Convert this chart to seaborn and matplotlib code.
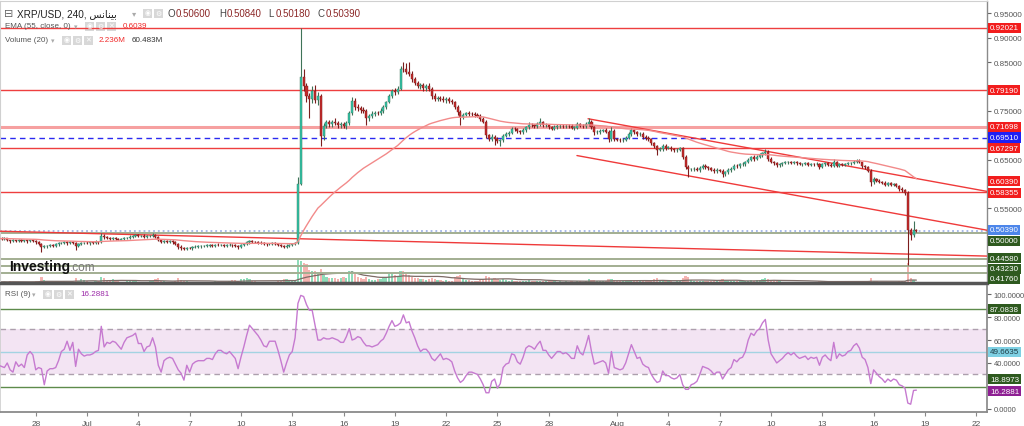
import numpy as np
import pandas as pd
import matplotlib
matplotlib.use("Agg")
import matplotlib.pyplot as plt
import seaborn as sns
from matplotlib.transforms import blended_transform_factory, offset_copy
from matplotlib.patches import Rectangle

sns.set_theme(style="white")
plt.rcParams["font.family"] = ["Liberation Sans", "DejaVu Sans"]

# ------------------------------------------------------------------ data
start_time = "2023-06-25 20:00"      # first 4h candle
first_open = 0.489

# closes in thousandths of a dollar (4h candles)
close_k = [
    488, 487, 489, 484, 482, 484, 483, 485, 483, 484,   # 0
    482, 484, 483, 480, 477, 470, 472, 473, 474, 472,   # 10
    476, 478, 479, 480, 478, 480, 479, 472, 477, 478,   # 20
    479, 478, 480, 479, 481, 480, 494, 491, 490, 488,   # 30
    489, 487, 486, 487, 489, 490, 492, 494, 495, 493,   # 40
    494, 492, 493, 494, 496, 492, 484, 481, 482, 481,   # 50
    482, 480, 476, 471, 468, 466, 469, 468, 470, 471,   # 60
    472, 472, 473, 473, 474, 473, 475, 474, 474, 473,   # 70
    474, 475, 474, 473, 470, 474, 477, 480, 482, 481,   # 80
    480, 479, 478, 477, 476, 477, 478, 477, 475, 473,   # 90
    471, 473, 475, 476, 478, 600, 819, 800, 781, 775,   # 100
    791, 772, 780, 699, 719, 726, 722, 728, 724, 720,   # 110
    722, 718, 725, 745, 770, 758, 755, 752, 750, 735,   # 120
    740, 744, 746, 745, 750, 758, 768, 780, 790, 788,   # 130
    795, 836, 835, 830, 826, 815, 808, 800, 802, 796,   # 140
    800, 795, 781, 775, 777, 775, 772, 775, 770, 768,   # 150
    758, 748, 738, 742, 745, 744, 743, 742, 740, 734,   # 160
    728, 700, 693, 697, 692, 688, 690, 699, 703, 705,   # 170
    713, 712, 708, 706, 710, 716, 721, 720, 718, 722,   # 180
    727, 720, 720, 716, 713, 716, 719, 719, 718, 719,   # 190
    718, 715, 715, 722, 719, 718, 722, 728, 716, 706,   # 200
    707, 709, 710, 707, 692, 708, 692, 691, 690, 691,   # 210
    695, 702, 710, 706, 702, 703, 697, 694, 692, 684,   # 220
    677, 670, 671, 678, 674, 674, 671, 669, 670, 673,   # 230
    655, 635, 630, 630, 631, 629, 633, 637, 634, 632,   # 240
    629, 626, 628, 627, 620, 624, 628, 631, 637, 636,   # 250
    640, 641, 645, 650, 655, 652, 656, 659, 663, 666,   # 260
    652, 645, 642, 638, 640, 642, 644, 645, 643, 645,   # 270
    642, 640, 641, 642, 639, 641, 640, 641, 634, 640,   # 280
    642, 639, 637, 646, 637, 640, 639, 640, 642, 643,   # 290
    646, 648, 644, 636, 634, 627, 603, 611, 607, 604,   # 300
    602, 598, 601, 598, 599, 596, 590, 587, 582, 505,   # 310
    495, 506, 503.9,                                    # 320
]

# wick lengths beyond the body, thousandths of a dollar
upper_wick_k = [
    2, 3, 2, 1, 2, 3, 2, 2, 3, 2,
    2, 2, 3, 1, 2, 2, 3, 2, 2, 2,
    3, 2, 2, 3, 2, 2, 3, 2, 2, 2,
    2, 3, 2, 2, 3, 2, 5, 3, 2, 2,
    3, 2, 2, 3, 2, 2, 3, 2, 3, 2,
    2, 3, 2, 2, 3, 2, 2, 2, 3, 2,
    2, 2, 2, 2, 3, 2, 2, 2, 2, 3,
    2, 2, 2, 3, 2, 2, 2, 3, 2, 2,
    2, 3, 2, 2, 2, 3, 2, 2, 4, 2,
    2, 2, 3, 2, 2, 2, 3, 2, 2, 2,
    2, 3, 2, 2, 3, 15, 101, 16, 8, 6,
    10, 12, 8, 5, 6, 5, 6, 4, 7, 5,
    4, 6, 5, 4, 9, 6, 5, 4, 6, 4,
    4, 5, 3, 4, 5, 4, 3, 5, 4, 6,
    5, 6, 14, 13, 20, 6, 5, 4, 6, 5,
    5, 6, 4, 5, 3, 4, 5, 4, 3, 5,
    3, 4, 3, 4, 3, 4, 3, 4, 3, 4,
    3, 4, 3, 5, 3, 4, 3, 4, 3, 4,
    3, 4, 3, 3, 4, 3, 5, 4, 3, 4,
    8, 3, 4, 3, 3, 4, 3, 3, 4, 3,
    3, 4, 3, 5, 3, 3, 4, 7, 3, 3,
    4, 3, 3, 4, 3, 11, 4, 3, 3, 3,
    4, 5, 4, 3, 3, 4, 3, 3, 4, 3,
    3, 3, 4, 3, 3, 3, 4, 3, 3, 3,
    3, 4, 3, 3, 4, 3, 3, 4, 3, 3,
    3, 3, 4, 3, 3, 3, 4, 3, 4, 3,
    3, 4, 3, 4, 3, 4, 3, 4, 3, 6,
    4, 3, 3, 3, 3, 2, 3, 2, 3, 2,
    2, 3, 2, 2, 3, 2, 2, 3, 2, 3,
    2, 2, 3, 6, 2, 3, 2, 2, 3, 2,
    3, 3, 3, 2, 3, 2, 4, 3, 2, 3,
    2, 3, 2, 3, 2, 3, 2, 3, 3, 3,
    4, 17, 2.4,
]
lower_wick_k = [
    2, 2, 3, 2, 3, 2, 2, 3, 2, 2,
    3, 2, 2, 3, 2, 9, 2, 3, 2, 2,
    2, 3, 2, 2, 3, 2, 2, 8, 2, 3,
    2, 2, 3, 2, 2, 3, 2, 3, 2, 2,
    2, 3, 2, 2, 3, 2, 2, 2, 3, 2,
    2, 2, 3, 2, 2, 3, 2, 3, 2, 2,
    2, 3, 2, 5, 3, 2, 2, 2, 3, 2,
    2, 3, 2, 2, 2, 3, 2, 2, 2, 3,
    2, 2, 3, 2, 3, 2, 2, 2, 3, 2,
    2, 3, 2, 2, 3, 2, 2, 3, 2, 2,
    3, 2, 2, 3, 2, 2, 3, 10, 12, 40,
    8, 6, 10, 22, 8, 5, 6, 5, 4, 6,
    5, 4, 6, 5, 4, 6, 5, 6, 5, 15,
    5, 4, 5, 4, 3, 5, 4, 3, 4, 5,
    4, 3, 6, 5, 4, 6, 5, 4, 5, 6,
    5, 4, 6, 5, 4, 5, 4, 5, 4, 5,
    5, 6, 18, 4, 3, 4, 3, 4, 3, 5,
    4, 6, 5, 4, 13, 5, 10, 4, 3, 4,
    3, 4, 4, 3, 4, 3, 4, 3, 4, 3,
    3, 4, 3, 4, 3, 3, 3, 4, 3, 3,
    3, 3, 4, 3, 3, 4, 3, 4, 4, 5,
    3, 4, 3, 3, 6, 3, 4, 3, 4, 3,
    3, 3, 4, 3, 3, 3, 4, 3, 3, 4,
    3, 10, 3, 3, 4, 3, 3, 3, 4, 3,
    4, 5, 15, 3, 4, 3, 4, 3, 3, 4,
    3, 4, 3, 3, 6, 3, 3, 4, 3, 3,
    3, 3, 4, 3, 3, 4, 3, 3, 4, 3,
    4, 3, 3, 3, 3, 3, 2, 3, 2, 3,
    3, 2, 3, 2, 3, 2, 3, 2, 3, 2,
    3, 2, 3, 2, 3, 2, 3, 2, 2, 3,
    2, 3, 2, 3, 3, 3, 8, 3, 3, 2,
    3, 2, 3, 2, 3, 3, 4, 3, 4, 71,
    9, 3, 2.1,
]

# volume per candle, millions
volume_m = [
    30, 25, 35, 20, 40, 30, 25, 20, 30, 25,
    35, 20, 25, 45, 60, 140, 70, 40, 30, 25,
    30, 35, 40, 45, 30, 25, 30, 120, 60, 90,
    80, 40, 35, 30, 45, 50, 150, 110, 60, 50,
    90, 80, 40, 35, 30, 40, 45, 50, 55, 35,
    30, 35, 30, 40, 45, 100, 110, 60, 40, 35,
    30, 35, 60, 110, 80, 50, 45, 35, 30, 30,
    25, 30, 30, 35, 25, 30, 40, 35, 30, 25,
    30, 50, 80, 70, 60, 90, 100, 110, 90, 60,
    40, 35, 30, 25, 30, 35, 30, 25, 40, 60,
    90, 100, 70, 45, 40, 560, 540, 480, 450, 320,
    280, 300, 220, 330, 200, 150, 130, 120, 110, 100,
    120, 140, 110, 280, 300, 220, 140, 110, 100, 150,
    90, 80, 70, 90, 100, 120, 150, 220, 250, 200,
    180, 280, 300, 220, 200, 150, 130, 110, 100, 90,
    80, 90, 110, 100, 80, 70, 60, 70, 60, 50,
    140, 160, 200, 100, 80, 70, 60, 60, 50, 70,
    80, 180, 140, 100, 120, 90, 80, 90, 70, 60,
    70, 60, 50, 45, 50, 60, 70, 60, 50, 45,
    60, 50, 45, 40, 45, 40, 35, 40, 35, 40,
    35, 40, 35, 50, 40, 35, 45, 90, 80, 70,
    50, 45, 40, 45, 100, 90, 80, 50, 40, 45,
    50, 60, 70, 50, 45, 40, 50, 55, 50, 70,
    90, 110, 60, 50, 45, 40, 40, 35, 40, 45,
    120, 180, 150, 80, 60, 50, 45, 50, 45, 40,
    40, 45, 40, 45, 90, 60, 45, 40, 50, 45,
    45, 50, 55, 60, 70, 60, 70, 80, 90, 110,
    100, 70, 55, 45, 40, 35, 35, 30, 30, 35,
    30, 30, 35, 30, 30, 30, 25, 30, 55, 40,
    30, 30, 35, 60, 40, 30, 30, 25, 30, 30,
    40, 45, 40, 35, 30, 50, 120, 60, 40, 35,
    30, 35, 30, 30, 30, 35, 40, 45, 60, 480,
    130, 70, 2.236,
]

# RSI(9)
rsi9 = [
    38, 37, 36, 40, 34, 32, 41, 37, 39, 36,
    47, 50, 47, 34, 36, 35, 21, 33, 35, 35,
    36, 42, 50, 52, 59, 51, 58, 37, 52, 48,
    46, 47, 47, 48, 50, 51, 72, 54, 58, 57,
    59, 58, 55, 52, 58, 62, 63, 64, 66, 57,
    57, 50, 54, 55, 62, 54, 38, 32, 42, 44,
    45, 44, 39, 34, 31, 25, 38, 32, 39, 41,
    42, 42, 42, 44, 44, 43, 48, 51, 51, 49,
    48, 50, 47, 44, 35, 45, 54, 64, 73, 70,
    67, 64, 60, 55, 54, 59, 59, 59, 51, 42,
    32, 40, 47, 50, 62, 92, 99, 98, 91, 86,
    86, 73, 60, 60, 62, 61, 61, 62, 61, 60,
    58, 58, 63, 70, 60, 61, 63, 62, 58, 55,
    55, 54, 55, 56, 59, 61, 66, 72, 77, 72,
    73, 75, 82, 75, 76, 68, 62, 55, 50, 52,
    52, 49, 44, 42, 45, 48, 43, 44, 43, 41,
    33, 27, 23, 25, 29, 32, 32, 31, 30, 26,
    21, 14, 14, 24, 26, 18, 22, 36, 39, 40,
    48, 47, 41, 39, 45, 53, 55, 54, 52, 56,
    59, 51, 51, 47, 44, 47, 50, 50, 48, 49,
    47, 44, 44, 55, 49, 47, 55, 64, 50, 39,
    40, 41, 42, 40, 31, 50, 36, 35, 34, 35,
    40, 48, 56, 50, 44, 45, 39, 37, 36, 30,
    26, 23, 24, 33, 29, 29, 27, 26, 27, 30,
    21, 17, 17, 21, 22, 24, 30, 37, 36, 35,
    33, 30, 32, 32, 26, 30, 34, 36, 43, 41,
    44, 45, 50, 60, 66, 64, 68, 70, 75, 78,
    60, 48, 44, 40, 42, 44, 47, 49, 47, 49,
    46, 44, 45, 46, 43, 45, 44, 45, 38, 45,
    47, 44, 42, 58, 44, 48, 46, 47, 50, 51,
    55, 57, 53, 45, 43, 36, 22, 34, 31, 28,
    26, 23, 26, 24, 26, 25, 21, 20, 18, 5,
    4, 16, 16.2881,
]

# horizontal levels and labels
red_levels = [0.92021, 0.79190, 0.67297, 0.58355]
zone_level = 0.71698
blue_level = 0.69510
last_price = 0.50390
support_levels = [0.50000, 0.44580, 0.43230, 0.41760]
ema_last_label = 0.60390
# drawn trend lines: ((day, price), (day, price)), day = days since 1 Jul 2023
trendlines = [((29.30, 0.7337), (52.63, 0.5847)),
              ((28.65, 0.6582), (52.63, 0.5051)),
              ((-5.09, 0.5030), (52.63, 0.4520))]
rsi_upper_line, rsi_mid_line, rsi_lower_line = 87.0838, 49.6635, 18.8973
rsi_band = (30, 70)
rsi_last = 16.2881
price_ticks = [0.40, 0.45, 0.50, 0.55, 0.60, 0.65, 0.70, 0.75, 0.80, 0.85, 0.90, 0.95]
price_tick_labels = ["", "", "", "0.55000", "", "0.65000", "", "0.75000", "",
                     "0.85000", "0.90000", "0.95000"]
rsi_ticks = [0, 20, 40, 60, 80, 100]
rsi_tick_labels = ["0.0000", "", "40.0000", "60.0000", "80.0000", "100.0000"]
x_tick_days = [-3, 0, 3, 6, 9, 12, 15, 18, 21, 24, 27, 31, 34, 37, 40, 43, 46, 49, 52]
x_tick_labels = ["28", "Jul", "4", "7", "10", "13", "16", "19", "22", "25", "28",
                 "Aug", "4", "7", "10", "13", "16", "19", "22"]
ohlc_letters = ["O", "H", "L", "C"]
ohlc_values = ["0.50600", "0.50840", "0.50180", "0.50390"]
# "بينانس" written in joined (presentation) forms, visual order
exchange_name = "\uFEB2\uFEE7\uFE8E\uFEE8\uFEF4\uFE91"

# ------------------------------------------------------------------ derived
n = len(close_k)
c = np.array(close_k, float) / 1000
o = np.r_[first_open, c[:-1]]
hi = np.maximum(o, c) + np.array(upper_wick_k, float) / 1000
lo = np.minimum(o, c) - np.array(lower_wick_k, float) / 1000
times = pd.date_range(start_time, periods=n, freq="4h")
day = np.asarray((times - pd.Timestamp("2023-07-01")) / pd.Timedelta(days=1))
up = c >= o
vol = np.array(volume_m, float)
vol_ma = pd.Series(vol).rolling(20, min_periods=1).mean().values
ema55 = pd.Series(c).ewm(span=55, adjust=False).mean().values
rsi = np.array(rsi9, float)

# ------------------------------------------------------------------ figure
W, H = 1024, 427
fig = plt.figure(figsize=(W / 100, H / 100), dpi=100)
fig.patch.set_facecolor("white")
fx = lambda p: p / W
fy = lambda p: 1 - p / H
RIGHT = 987
price_rect = [0, fy(284), fx(RIGHT), (284 - 2) / H]
ax_vol = fig.add_axes(price_rect)
ax = fig.add_axes(price_rect, sharex=ax_vol)
ax_rsi = fig.add_axes([0, fy(413), fx(RIGHT), (413 - 287) / H], sharex=ax_vol)
ax_vol.set_zorder(1)
ax.set_zorder(2)
ax.patch.set_alpha(0)
ax_vol.axis("off")

XMIN, XMAX = -5.09, 52.63

# volume
vcol = np.where(up, "#8edcb9", "#f5b4b1")
ax_vol.bar(day, vol, width=0.13, color=vcol, linewidth=0)
sns.lineplot(x=day, y=vol_ma, ax=ax_vol, color="#7d6b66", linewidth=0.9)
ax_vol.set_ylim(0, 6770)

# levels
for lv in red_levels:
    ax.axhline(lv, color="#ee3f3f", lw=1, zorder=2)
ax.axhline(zone_level, color="#f6a0a0", lw=2.2, zorder=2)
ax.axhline(blue_level, color="#2a2af0", lw=1, ls=(0, (4, 3)), zorder=2)
for lv in support_levels:
    ax.axhline(lv, color="#a2ae92", lw=1.4, zorder=2)
ax.axhline(last_price, color="#9fb3e6", lw=1.3, ls=":", zorder=2)
for (x1, y1), (x2, y2) in trendlines:
    ax.plot([x1, x2], [y1, y2], color="#ef3a3a", lw=1, zorder=3)

# candles
wick_col = np.where(up, "#3f7358", "#7c1d1d")
body_col = np.where(up, "#2fc6aa", "#c42a2a")
ax.vlines(day, lo, hi, colors=wick_col, lw=0.8, zorder=4)
body_lo = np.minimum(o, c)
body_h = np.maximum(np.abs(c - o), 0.0008)
ax.bar(day, body_h, bottom=body_lo, width=0.12, color=body_col,
       edgecolor=wick_col, linewidth=0.3, zorder=5)

# EMA 55
sns.lineplot(x=day, y=ema55, ax=ax, color="#f28a8a", linewidth=1, zorder=6)

ax.set_xlim(XMIN, XMAX)
ax.set_ylim(0.3968, 0.9752)
ax.set_xlabel("")
ax.set_ylabel("")
ax.yaxis.tick_right()
ax.set_yticks(price_ticks)
ax.set_yticklabels(price_tick_labels)
ax.tick_params(axis="y", labelsize=5.8, colors="#666", labelcolor="#555",
               length=3, width=0.8, pad=2, right=True, left=False)
ax.tick_params(axis="x", bottom=False, labelbottom=False)
for s in ["left", "top"]:
    ax.spines[s].set_color("#d0d0d0")
    ax.spines[s].set_linewidth(0.8)
ax.spines["right"].set_color("#8a8a8a")
ax.spines["right"].set_linewidth(1)
ax.spines["bottom"].set_color("#555555")
ax.spines["bottom"].set_linewidth(2.5)

# RSI panel
ax_rsi.axhspan(*rsi_band, color="#f3e4f3", zorder=0, lw=0)
for lv in rsi_band:
    ax_rsi.axhline(lv, color="#ad9fad", lw=1, ls=(0, (4, 3)), zorder=1)
ax_rsi.axhline(rsi_upper_line, color="#5d8b4b", lw=1, zorder=1)
ax_rsi.axhline(rsi_lower_line, color="#5d8b4b", lw=1, zorder=1)
ax_rsi.axhline(rsi_mid_line, color="#a3d3e2", lw=1, zorder=1)
sns.lineplot(x=day, y=rsi, ax=ax_rsi, color="#c67ad0", linewidth=1, zorder=3)
ax_rsi.set_ylim(-2.8, 107.2)
ax_rsi.set_xlim(XMIN, XMAX)
ax_rsi.set_xlabel("")
ax_rsi.set_ylabel("")
ax_rsi.yaxis.tick_right()
ax_rsi.set_yticks(rsi_ticks)
ax_rsi.set_yticklabels(rsi_tick_labels)
ax_rsi.tick_params(axis="y", labelsize=5.5, colors="#666", labelcolor="#555",
                   length=3, width=0.8, pad=2, right=True, left=False)
ax_rsi.set_xticks(x_tick_days)
ax_rsi.set_xticklabels(x_tick_labels)
ax_rsi.tick_params(axis="x", labelsize=6, colors="#888", labelcolor="#555",
                   length=3, width=0.8, pad=3, bottom=True)
ax_rsi.spines["top"].set_visible(False)
ax_rsi.spines["left"].set_color("#d0d0d0")
ax_rsi.spines["right"].set_color("#8a8a8a")
ax_rsi.spines["bottom"].set_color("#8a8a8a")
ax_rsi.spines["bottom"].set_linewidth(1.3)


def tag(axis, y, text, bg, fg="white", dy_px=0.0):
    tr = blended_transform_factory(axis.transAxes, axis.transData)
    tr = offset_copy(tr, fig=fig, x=0, y=-dy_px, units="dots")
    axis.text(1.0 + 3 / RIGHT, y, text, transform=tr, ha="left", va="center",
              fontsize=5.8, color=fg, zorder=20, clip_on=False,
              bbox=dict(boxstyle="square,pad=0.2", fc=bg, ec="none"))


RED = "#f21d1d"
GREEN = "#2e5a1f"
tag(ax, red_levels[0], f"{red_levels[0]:.5f}", RED)
tag(ax, red_levels[1], f"{red_levels[1]:.5f}", RED)
tag(ax, red_levels[2], f"{red_levels[2]:.5f}", RED)
tag(ax, red_levels[3], f"{red_levels[3]:.5f}", RED, dy_px=1)
tag(ax, zone_level, f"{zone_level:.5f}", RED)
tag(ax, blue_level, f"{blue_level:.5f}", "#1f1ff5")
tag(ax, ema_last_label, f"{ema_last_label:.5f}", RED, dy_px=-1)
tag(ax, last_price, f"{last_price:.5f}", "#4d86ea", dy_px=-1)
tag(ax, support_levels[0], f"{support_levels[0]:.5f}", GREEN, dy_px=8)
tag(ax, support_levels[1], f"{support_levels[1]:.5f}", GREEN, dy_px=-1)
tag(ax, support_levels[2], f"{support_levels[2]:.5f}", GREEN, dy_px=3)
tag(ax, support_levels[3], f"{support_levels[3]:.5f}", GREEN, dy_px=6)
tag(ax_rsi, rsi_upper_line, f"{rsi_upper_line:.4f}", GREEN)
tag(ax_rsi, rsi_mid_line, f"{rsi_mid_line:.4f}", "#7ed0e3", fg="#1e3b44")
tag(ax_rsi, rsi_lower_line, f"{rsi_lower_line:.4f}", GREEN, dy_px=-8)
tag(ax_rsi, rsi_last, f"{rsi_last:.4f}", "#8e1f93", dy_px=1)


# ------------------------------------------------------------------ header texts
def ftext(xp, yp, s, size, color="#333", **kw):
    fig.text(fx(xp), fy(yp), s, fontsize=size, color=color, ha="left", va="center", **kw)


def icons(x0, yp, count=3):
    glyphs = ["◉", "⚙", "✕"]
    for k in range(count):
        fig.patches.append(Rectangle((fx(x0 + k * 11), fy(yp + 4.5)), fx(9), 9 / H,
                                     transform=fig.transFigure, fc="#d8d8d8", ec="none"))
        fig.text(fx(x0 + k * 11 + 4.5), fy(yp), glyphs[k], fontsize=5, color="white",
                 ha="center", va="center")


ftext(4, 14, "⊟", 8, "#666")
ftext(17, 14, "XRP/USD, 240, " + exchange_name, 7.2, "#222")
ftext(132, 14.5, "▾", 6, "#aaa")
icons(143, 14, 2)
ox = [168, 219, 268, 318]
for xl, L, V in zip(ox, ohlc_letters, ohlc_values):
    ftext(xl, 14, L, 7, "#444")
    ftext(xl + 8, 14, V, 7, "#8b2626")

ftext(5, 27, "EMA (55, close, 0)", 5.8, "#555")
ftext(74, 27.5, "▾", 5, "#aaa")
icons(85, 27)
ftext(123, 27, "0.6039", 5.8, "#f02a2a")

ftext(5, 41, "Volume (20)", 5.8, "#555")
ftext(51, 41.5, "▾", 5, "#aaa")
icons(62, 41)
ftext(99, 41, "2.236M", 5.8, "#f02a2a")
ftext(132, 41, "60.483M", 5.8, "#333")

ftext(5, 295, "RSI (9)", 5.8, "#555")
ftext(32, 295.5, "▾", 5, "#aaa")
icons(43, 295)
ftext(80, 295, "16.2881", 5.8, "#9b2aa8")

ftext(9, 267, "Investing", 10, "#111", weight="bold")
ftext(70, 268, ".com", 8.5, "#777")

fig.savefig("out.png", dpi=100, facecolor="white")
